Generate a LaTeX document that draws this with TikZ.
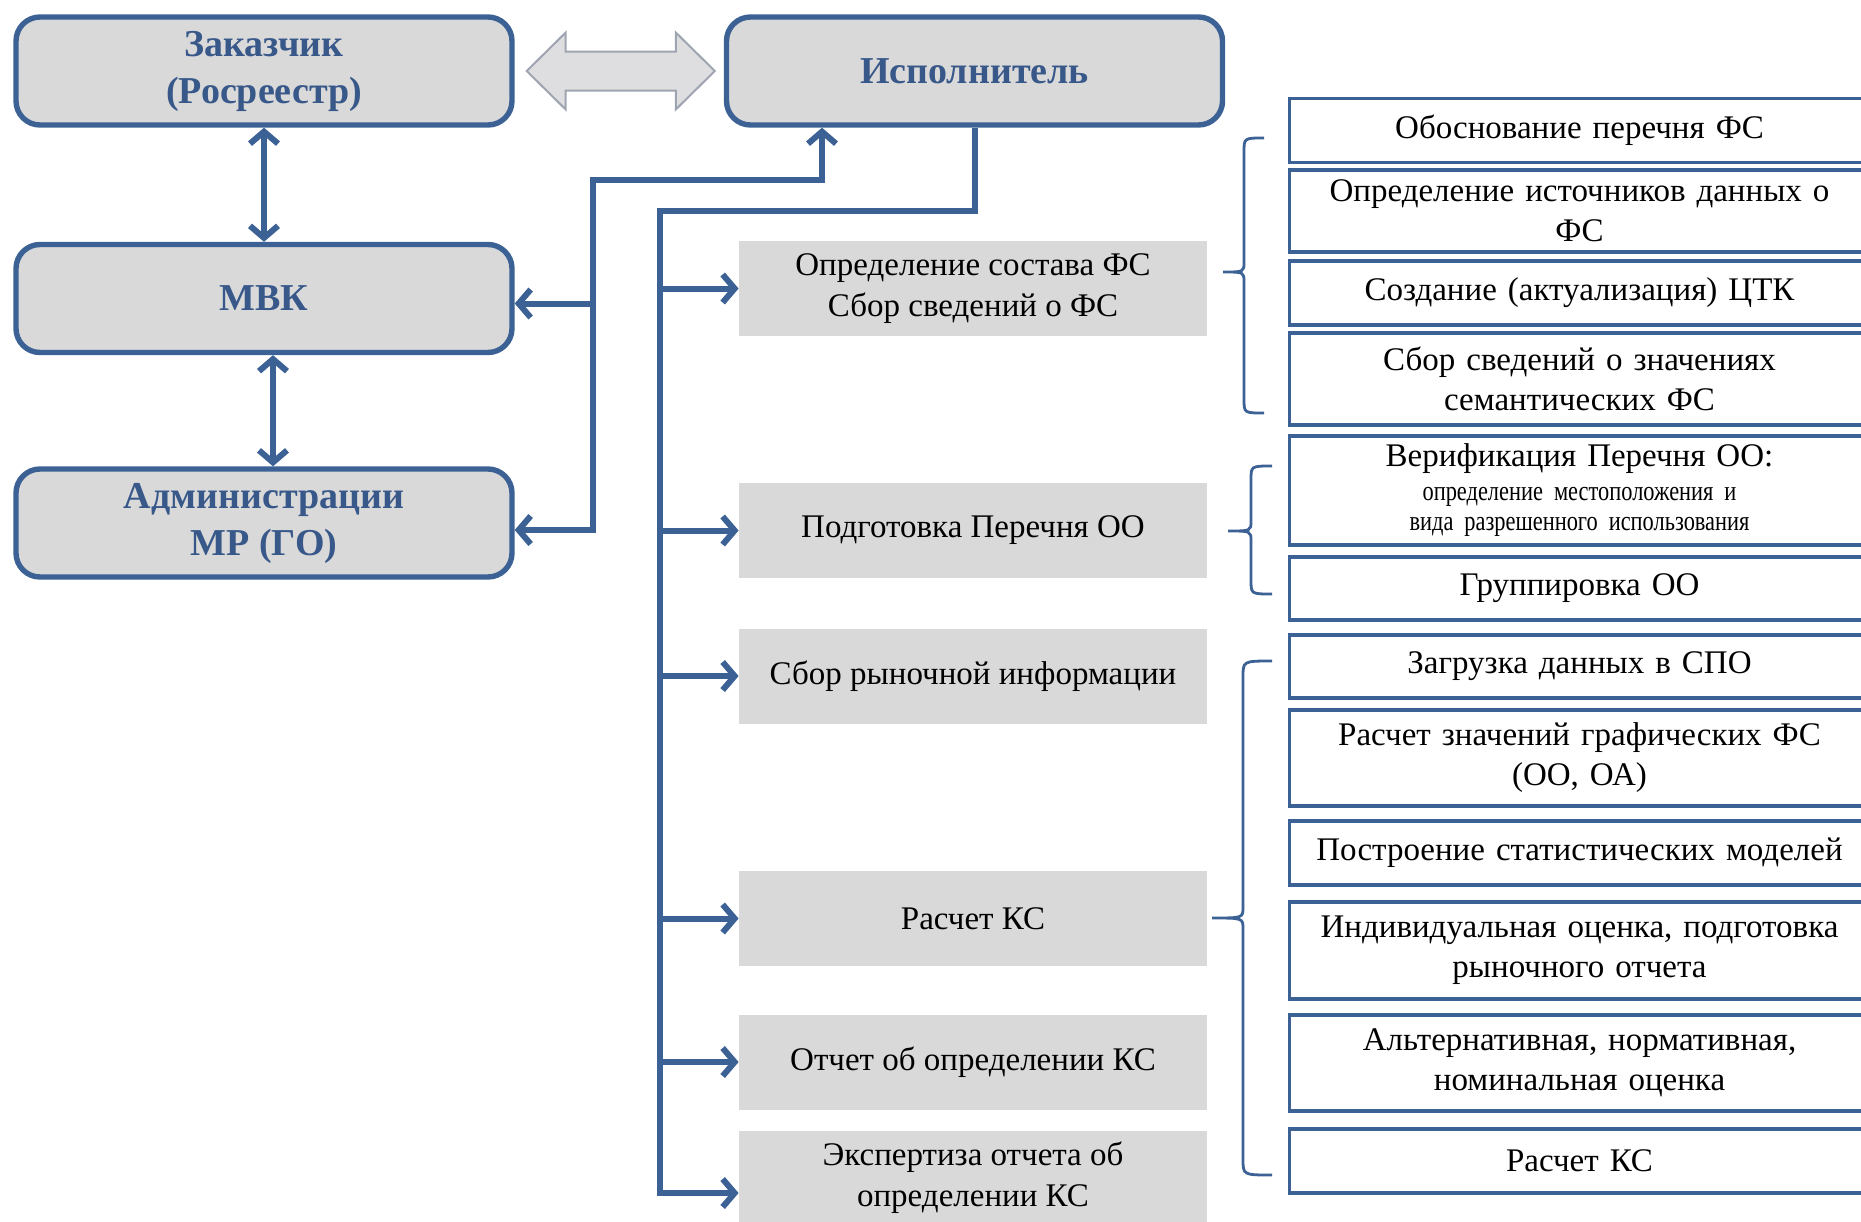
\documentclass[tikz,border=0pt]{standalone}
\usepackage{fontspec}
\setmainfont{Liberation Serif}
\newfontfamily\narrowserif[FakeStretch=0.8]{Liberation Serif}
\usetikzlibrary{arrows.meta,calc,positioning}

\definecolor{frameblue}{RGB}{60,97,148}
\definecolor{labelblue}{RGB}{56,88,138}
\definecolor{boxgray}{RGB}{217,217,217}
\definecolor{arrowgray}{RGB}{222,222,224}
\definecolor{arrowedge}{RGB}{158,164,176}

\tikzset{
  >={Straight Barb[length=6pt,width=14pt]},
  party/.style={draw=frameblue, line width=2.7pt, fill=boxgray, rounded corners=12pt,
    minimum width=248pt, minimum height=54pt, inner sep=0pt, align=center,
    text=labelblue, font=\fontsize{19}{23.5}\selectfont\bfseries},
  stage/.style={fill=boxgray, minimum width=234pt, minimum height=47.5pt, inner sep=0pt,
    align=center, font=\fontsize{16.5}{20.5}\selectfont},
  task/.style={draw=frameblue, line width=1.7pt, fill=white, minimum width=290pt,
    text width=284pt, inner sep=0pt, align=center, font=\fontsize{16.5}{20}\selectfont},
  link/.style={draw=frameblue, line width=3pt},
  brc/.style={draw=frameblue, line width=1.4pt},
  blockarrow/.style={draw=arrowedge, line width=1pt, fill=arrowgray, line join=miter}
}

\begin{document}
\begin{tikzpicture}[x=0.5pt, y=-0.5pt]
  \useasboundingbox (0,0) rectangle (1861,1221);
  \clip (0,0) rectangle (1861,1221);

  % participants
  \node[party] (zak) at (264,71) {Заказчик\\(Росреестр)};
  \node[party] (isp) at (974.5,71) {Исполнитель};
  \node[party] (mvk) at (264,298.5) {МВК};
  \node[party] (adm) at (264,523) {Администрации\\МР (ГО)};

  % stages
  \node[stage] (t1) at (973,288.5) {Определение состава ФС\\Сбор сведений о ФС};
  \node[stage] (t2) at (973,530.5) {Подготовка Перечня ОО};
  \node[stage] (t3) at (973,676) {Сбор рыночной информации};
  \node[stage] (t4) at (973,918.5) {Расчет КС};
  \node[stage] (t5) at (973,1062) {Отчет об определении КС};
  \node[stage] (t6) at (973,1178) {Экспертиза отчета об\\определении КС};

  % tasks
  \node[task, minimum height=32pt] (r1) at (1579.5,130.5) {Обоснование перечня ФС};
  \node[task, minimum height=41pt] (r2) at (1579.5,211) {Определение источников данных о\\ФС};
  \node[task, minimum height=32pt] (r3) at (1579.5,293) {Создание (актуализация) ЦТК};
  \node[task, minimum height=46pt] (r4) at (1579.5,379) {Сбор сведений о значениях\\семантических ФС};
  \node[task, minimum height=54.5pt] (r5) at (1579.5,490.5) {Верификация Перечня ОО:\\[-3pt]
    {\narrowserif\fontsize{14}{15}\selectfont определение местоположения и}\\[-5pt]
    {\narrowserif\fontsize{14}{15}\selectfont вида разрешенного использования}};
  \node[task, minimum height=31.5pt] (r6) at (1579.5,588.5) {Группировка ОО};
  \node[task, minimum height=31.5pt] (r7) at (1579.5,666.5) {Загрузка данных в СПО};
  \node[task, minimum height=48pt] (r8) at (1579.5,758) {Расчет значений графических ФС\\(ОО, ОА)};
  \node[task, minimum height=32pt] (r9) at (1579.5,853) {Построение статистических моделей};
  \node[task, minimum height=48.5pt] (r10) at (1579.5,950.5) {Индивидуальная оценка, подготовка\\рыночного отчета};
  \node[task, minimum height=48pt] (r11) at (1579.5,1063) {Альтернативная, нормативная,\\номинальная оценка};
  \node[task, minimum height=32pt] (r12) at (1579.5,1161) {Расчет КС};

  % customer <-> contractor
  \draw[blockarrow] ($(zak.east)+(12,0)$) -- ++(39,-38.5) -- ++(0,19)
    -- ($(isp.west)+(-48,-19.5)$) -- ++(0,-19) -- ($(isp.west)+(-9,0)$)
    -- ++(-39,38.5) -- ++(0,-19) -- ($(zak.east)+(51,19.5)$) -- ++(0,19) -- cycle;

  \draw[link,<->] (zak) -- (mvk);
  \draw[link,<->] ($(mvk.south)+(9,0)$) -- ($(adm.north)+(9,0)$);

  % feedback to contractor
  \coordinate (fb) at (593,180);
  \draw[link,<->] ($(adm.east)+(0,7)$) -| (fb) -| ($(isp.south)+(-152.5,0)$);
  \draw[link,->] ($(fb |- mvk.east)+(0,5)$) -- ($(mvk.east)+(0,5)$);

  % work flow
  \coordinate (trk) at (660,211);
  \draw[link,->] (isp.south) |- (trk) |- ($(t6.west)+(0,15)$);
  \foreach \t in {t1,t2,t3,t4,t5}
    \draw[link,->] (trk |- \t.west) -- (\t.west);

  % braces
  \draw[brc] (1264,138) .. controls (1244,138) .. (1244,152) -- (1244,262)
    .. controls (1244,272) .. (1223,272) .. controls (1244,272) .. (1244,282)
    -- (1244,399) .. controls (1244,413) .. (1264,413);
  \draw[brc] (1272,466) .. controls (1251,466) .. (1251,480) -- (1251,521)
    .. controls (1251,531) .. (1228,531) .. controls (1251,531) .. (1251,541)
    -- (1251,580) .. controls (1251,594) .. (1272,594);
  \draw[brc] (1272,661) .. controls (1243,661) .. (1243,677) -- (1243,907)
    .. controls (1243,918) .. (1212,918) .. controls (1243,918) .. (1243,929)
    -- (1243,1159) .. controls (1243,1175) .. (1272,1175);
\end{tikzpicture}
\end{document}
